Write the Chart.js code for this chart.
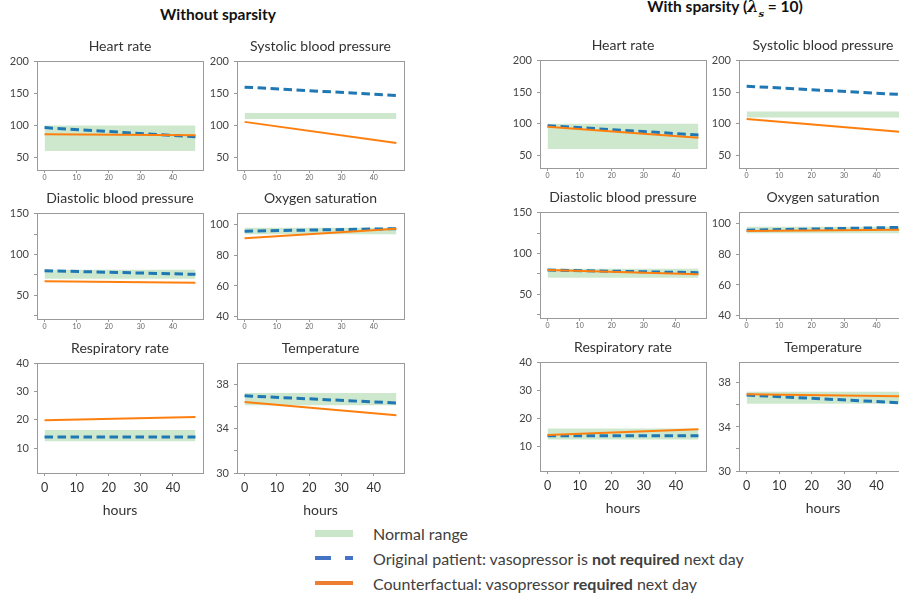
<!DOCTYPE html>
<html>
<head>
<meta charset="utf-8">
<script src="https://cdn.jsdelivr.net/npm/chart.js@4/dist/chart.umd.min.js"></script>
<style>
    body { margin: 0; width: 899px; height: 595px; overflow: hidden; background: #fff; position: relative; font-family: Lato, 'Open Sans', sans-serif; }
    canvas { position: absolute; }
    .hdr { position: absolute; transform: translate(-50%, -50%); font-weight: bold; font-size: 15.5px; color: #111; white-space: nowrap; }
    .hdr i { font-family: 'DejaVu Serif', serif; font-size: 16px; }
    .leg { position: absolute; left: 373px; transform: translateY(-50%); font-size: 16px; color: #404040; white-space: nowrap; }
    .sw { position: absolute; }
</style>
</head>
<body>
<div class="hdr" style="left:218px; top:14px;">Without sparsity</div>
<div class="hdr" style="left:725px; top:8px;">With sparsity (<i>λ<sub style="font-size:10px">s</sub></i> = 10)</div>

<div class="sw" style="left:315px; top:530px; width:38px; height:7px; background:#c9e6c9;"></div>
<div class="sw" style="left:315px; top:556px; width:16px; height:4px; background:#4472c4;"></div>
<div class="sw" style="left:345px; top:556px; width:8px; height:4px; background:#4472c4;"></div>
<div class="sw" style="left:315px; top:581px; width:38px; height:4px; background:#ed7d31;"></div>
<div class="leg" style="top:533px;">Normal range</div>
<div class="leg" style="top:558px;">Original patient: vasopressor is <b>not required</b> next day</div>
<div class="leg" style="top:583px;">Counterfactual: vasopressor <b>required</b> next day</div>

<script>
// panel order: HR, SBP, DBP, SpO2, RR, Temp
const titles = ['Heart rate', 'Systolic blood pressure', 'Diastolic blood pressure', 'Oxygen saturation', 'Respiratory rate', 'Temperature'];
const hours = [0, 47];
const hourTicks = [0, 10, 20, 30, 40];

const yMin = [30, 30, 21, 38.5, 1.3, 30];
const yMax = [201, 201, 151, 107.5, 40, 39.9];
const yTicks = [
    [50, 100, 150, 200],
    [50, 100, 150, 200],
    [25, 50, 75, 100, 125, 150],
    [40, 60, 80, 100],
    [10, 20, 30, 40],
    [30, 32, 34, 36, 38]
];
const yLabelled = [
    [50, 100, 150, 200],
    [50, 100, 150, 200],
    [50, 100, 150],
    [40, 60, 80, 100],
    [10, 20, 30, 40],
    [30, 34, 38]
];

const normalLow = [60, 110, 70.4, 93.6, 12.5, 36.1];
const normalHigh = [100, 119.5, 81.3, 97.9, 16.4, 37.2];

// start / end values over the 47 hours
const originalNoSparsity = [[96.5, 82], [160, 147], [80.2, 75.8], [95.7, 97.3], [14, 14], [36.95, 36.3]];
const counterfactualNoSparsity = [[86, 84.5], [105.5, 72.5], [67.2, 65.5], [91, 97.2], [19.9, 21], [36.4, 35.2]];
const originalSparsity = [[97, 82.3], [159.5, 146.5], [79.8, 76.5], [95.6, 97.5], [13.8, 13.8], [36.9, 36.2]];
const counterfactualSparsity = [[95.5, 78], [107.5, 87.5], [79.8, 74.6], [95.1, 96], [14.1, 16.1], [36.96, 36.8]];

const groups = [
    { cols: [37, 237], widths: [166, 167], rows: [61, 213, 363], heights: [109, 106, 110], original: originalNoSparsity, counterfactual: counterfactualNoSparsity },
    { cols: [540, 739], widths: [166, 168], rows: [60, 212, 362], heights: [108, 106, 109], original: originalSparsity, counterfactual: counterfactualSparsity }
];

const frame = {
    id: 'frame',
    afterDatasetsDraw (chart) {
        const { ctx, chartArea: a } = chart;
        ctx.save();
        ctx.strokeStyle = '#9a9a9a';
        ctx.lineWidth = 1;
        ctx.strokeRect(Math.round(a.left) + 0.5, Math.round(a.top) + 0.5, Math.round(a.width), Math.round(a.height));
        ctx.restore();
    }
};

const line = (vals) => hours.map((h, k) => ({ x: h, y: vals[k] }));

function drawPanel (group, i) {
    const row = Math.floor(i / 2);
    const col = i % 2;
    const bottomRow = row === 2;
    const padL = 37, padT = 26, padB = bottomRow ? 50 : 14;
    const frameW = group.widths[col];
    const canvas = document.createElement('canvas');
    canvas.width = padL + frameW + padL;
    canvas.height = padT + group.heights[row] + padB;
    canvas.style.left = (group.cols[col] - padL) + 'px';
    canvas.style.top = (group.rows[row] - padT) + 'px';
    document.body.appendChild(canvas);

    new Chart(canvas, {
        type: 'line',
        data: {
            datasets: [
                { data: line([normalLow[i], normalLow[i]]), borderWidth: 0, pointRadius: 0, fill: false, order: 3 },
                { data: line([normalHigh[i], normalHigh[i]]), borderWidth: 0, pointRadius: 0, fill: '-1', backgroundColor: 'rgba(44,160,44,0.24)', order: 3 },
                { data: line(group.original[i]), borderColor: '#1f77b4', borderWidth: 3, borderDash: [8.5, 4.5], pointRadius: 0, order: 2 },
                { data: line(group.counterfactual[i]), borderColor: '#ff7f0e', borderWidth: 2, pointRadius: 0, order: 1 }
            ]
        },
        options: {
            responsive: false,
            animation: false,
            devicePixelRatio: 1,
            layout: { padding: 0 },
            plugins: {
                legend: { display: false },
                tooltip: { enabled: false },
                title: {
                    display: true,
                    text: titles[i],
                    color: '#333',
                    font: { family: 'Lato', size: 14, weight: 'normal' },
                    padding: { top: 2.7, bottom: 6.5 }
                }
            },
            scales: {
                x: {
                    type: 'linear',
                    min: -2.35,
                    max: 49.35,
                    afterBuildTicks: (s) => { s.ticks = hourTicks.map(v => ({ value: v })); },
                    afterFit: (s) => { s.height = padB; },
                    grid: { drawOnChartArea: false, drawTicks: true, tickLength: 3, color: '#999' },
                    border: { display: false },
                    ticks: {
                        maxRotation: 0,
                        color: bottomRow ? '#333' : '#666',
                        padding: bottomRow ? 4 : 1,
                        font: { family: 'Lato', size: bottomRow ? 12.5 : 7 }
                    },
                    title: {
                        display: bottomRow,
                        text: 'hours',
                        color: '#333',
                        font: { family: 'Lato', size: 14 },
                        padding: { top: 0, bottom: 4.5 }
                    }
                },
                y: {
                    min: yMin[i],
                    max: yMax[i],
                    afterBuildTicks: (s) => { s.ticks = yTicks[i].map(v => ({ value: v })); },
                    afterFit: (s) => { s.width = padL; },
                    grid: { drawOnChartArea: false, drawTicks: true, tickLength: 3, color: '#999' },
                    border: { display: false },
                    ticks: {
                        color: '#444',
                        padding: 5,
                        font: { family: 'Lato', size: 11 },
                        callback: (v) => yLabelled[i].includes(v) ? v : ''
                    }
                },
                // empty right-hand axis so the plot box sits centred under its title
                spacer: {
                    position: 'right',
                    afterFit: (s) => { s.width = padL; },
                    grid: { display: false },
                    border: { display: false },
                    ticks: { display: false }
                }
            }
        },
        plugins: [frame]
    });
}

groups.forEach(g => titles.forEach((t, i) => drawPanel(g, i)));
</script>
</body>
</html>
